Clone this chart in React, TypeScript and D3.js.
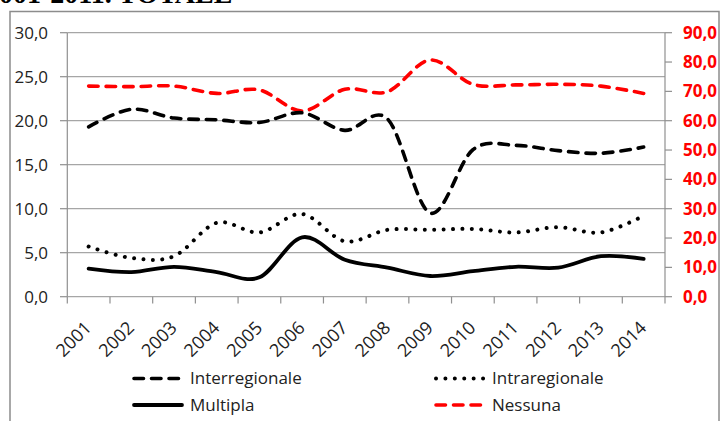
import React from "react";
import * as d3 from "d3";

const years = ["2001","2002","2003","2004","2005","2006","2007","2008","2009","2010","2011","2012","2013","2014"];
const interregionale = [19.3, 21.3, 20.3, 20.1, 19.8, 20.9, 18.9, 20.2, 9.5, 16.7, 17.2, 16.6, 16.3, 17.0];
const intraregionale = [5.7, 4.4, 4.6, 8.4, 7.3, 9.4, 6.3, 7.6, 7.6, 7.7, 7.3, 7.9, 7.3, 9.2];
const multipla = [3.2, 2.8, 3.4, 2.8, 2.2, 6.75, 4.2, 3.3, 2.35, 2.9, 3.4, 3.3, 4.6, 4.3];
const nessuna = [71.8, 71.6, 71.8, 69.3, 70.5, 63.3, 70.7, 69.9, 80.7, 72.4, 72.2, 72.4, 71.8, 69.3];
const leftTicks = [0, 5, 10, 15, 20, 25, 30];
const rightTicks = [0, 10, 20, 30, 40, 50, 60, 70, 80, 90];
const titleText = "2001-2011. TOTALE";

const FONT = "'Open Sans', sans-serif";

export default function App() {
  const W = 721, H = 421;
  const x = d3.scaleBand<string>().domain(years).range([67.3, 665]);
  const yL = d3.scaleLinear().domain([0, 30]).range([296.7, 32.7]);
  const yR = d3.scaleLinear().domain([0, 90]).range([296.7, 32.7]);
  const cx = (y: string) => (x(y) as number) + x.bandwidth() / 2;
  const fmt = (v: number) => d3.format(".1f")(v).replace(".", ",");

  const lineL = d3.line<number>().x((_, i) => cx(years[i])).y((v) => yL(v)).curve(d3.curveCatmullRom.alpha(0));
  const lineR = d3.line<number>().x((_, i) => cx(years[i])).y((v) => yR(v)).curve(d3.curveCatmullRom.alpha(0));

  const styles = {
    inter: { stroke: "#000", strokeWidth: 3.6, strokeDasharray: "9.5 8", strokeLinecap: "round" as const },
    intra: { stroke: "#000", strokeWidth: 4, strokeDasharray: "0.01 9.4", strokeLinecap: "round" as const },
    multi: { stroke: "#000", strokeWidth: 3.8, strokeLinecap: "round" as const },
    ness: { stroke: "#ff0000", strokeWidth: 3.6, strokeDasharray: "9.5 8", strokeLinecap: "round" as const },
  };

  const boundaries = years.map((y) => x(y) as number).concat([665]);

  const legend = [
    { label: "Interregionale", st: styles.inter, lx: 132, ly: 378.5 },
    { label: "Intraregionale", st: styles.intra, lx: 434, ly: 378.5 },
    { label: "Multipla", st: styles.multi, lx: 132, ly: 405 },
    { label: "Nessuna", st: styles.ness, lx: 434, ly: 405 },
  ];

  return (
    <>
      <style>{`body{margin:0}`}</style>
      <svg width={W} height={H} style={{ display: "block", background: "#fff" }}>
        <text x={-15} y={3} fontFamily="'Liberation Serif', serif" fontWeight="bold" fontSize={28} fill="#000">{titleText}</text>
        <rect x={10} y={11.5} width={709} height={430} fill="none" stroke="#8c8c8c" strokeWidth={1.5} />
        {leftTicks.map((t) => (
          <line key={"g" + t} x1={67.3} x2={665} y1={yL(t)} y2={yL(t)} stroke="#a6a6a6" strokeWidth={1.2} />
        ))}
        <line x1={67.3} x2={67.3} y1={32.7} y2={296.7} stroke="#909090" strokeWidth={1.2} />
        {leftTicks.map((t) => (
          <g key={"l" + t}>
            <line x1={60} x2={67.3} y1={yL(t)} y2={yL(t)} stroke="#909090" strokeWidth={1.2} />
            <text x={48} y={yL(t)} dy="0.35em" textAnchor="end" fontFamily={FONT} fontSize={17} fill="#222">{fmt(t)}</text>
          </g>
        ))}
        <line x1={665} x2={665} y1={32.7} y2={296.7} stroke="#909090" strokeWidth={1.2} />
        {rightTicks.map((t) => (
          <g key={"r" + t}>
            <line x1={665} x2={672} y1={yR(t)} y2={yR(t)} stroke="#909090" strokeWidth={1.2} />
            <text x={683} y={yR(t)} dy="0.35em" textAnchor="start" fontFamily={FONT} fontWeight="bold" fontSize={17} fill="#ff0000">{fmt(t)}</text>
          </g>
        ))}
        {boundaries.map((b, i) => (
          <line key={"xt" + i} x1={b} x2={b} y1={296.7} y2={303.5} stroke="#909090" strokeWidth={1.2} />
        ))}
        {years.map((y) => (
          <text key={"xl" + y} transform={`translate(${cx(y) + 4},${329}) rotate(-45)`} textAnchor="end" fontFamily={FONT} fontSize={18} fill="#222">{y}</text>
        ))}
        <path d={lineR(nessuna) || ""} fill="none" {...styles.ness} />
        <path d={lineL(interregionale) || ""} fill="none" {...styles.inter} />
        <path d={lineL(intraregionale) || ""} fill="none" {...styles.intra} />
        <path d={lineL(multipla) || ""} fill="none" {...styles.multi} />
        {legend.map((l) => (
          <g key={l.label}>
            <line x1={l.lx + 2} x2={l.lx + 50} y1={l.ly} y2={l.ly} fill="none" {...l.st} />
            <text x={l.lx + 58} y={l.ly} dy="0.35em" fontFamily={FONT} fontSize={17} fill="#222">{l.label}</text>
          </g>
        ))}
      </svg>
    </>
  );
}
